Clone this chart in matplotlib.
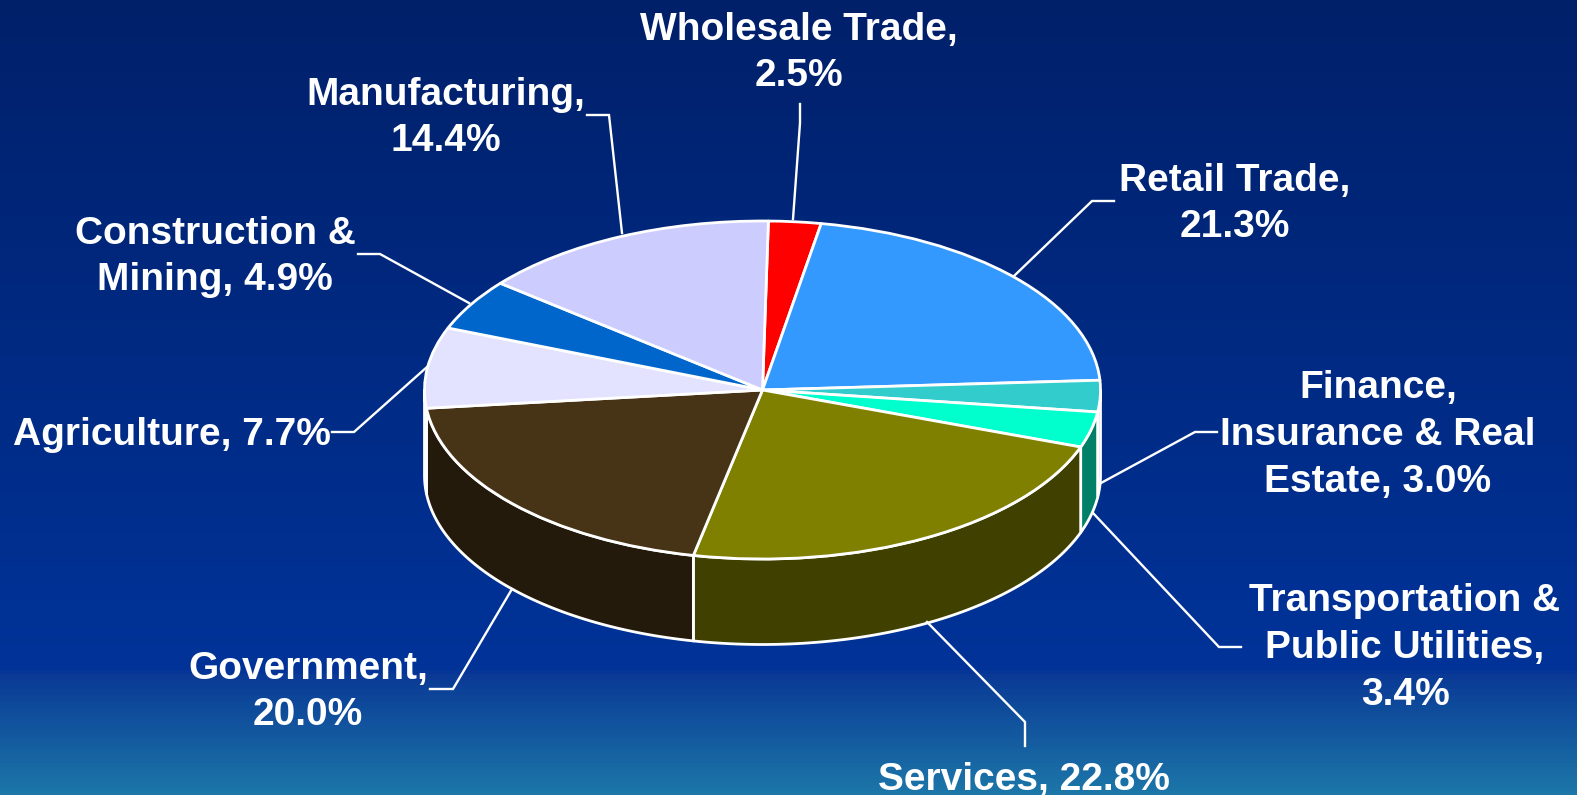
import numpy as np
import matplotlib
matplotlib.use("Agg")
import matplotlib.pyplot as plt
from matplotlib.colors import LinearSegmentedColormap

# ---- data ----
categories = ["Wholesale Trade", "Retail Trade", "Finance, Insurance & Real Estate",
              "Transportation & Public Utilities", "Services", "Government",
              "Agriculture", "Construction & Mining", "Manufacturing"]
shares = [2.5, 21.3, 3.0, 3.4, 22.8, 20.0, 7.7, 4.9, 14.4]
label_texts = ["Wholesale Trade,\n2.5%", "Retail Trade,\n21.3%",
               "Finance,\nInsurance & Real\nEstate, 3.0%",
               "Transportation &\nPublic Utilities,\n3.4%", "Services, 22.8%",
               "Government,\n20.0%", "Agriculture, 7.7%",
               "Construction &\nMining, 4.9%", "Manufacturing,\n14.4%"]

# ---- styles and layout ----
top_colors = ["#FF0000", "#3399FF", "#33CCCC", "#00FFCC", "#808000",
              "#473315", "#E3E3FF", "#0066CC", "#CCCCFF"]
side_colors = ["#800000", "#1A4D80", "#1A8080", "#008066", "#404000",
               "#241A0B", "#717180", "#003366", "#666680"]
W, H = 1577, 795
cx, cy, rx, ry, depth = 762.5, 390.0, 338.0, 169.0, 85.5
start_deg = 1.0
label_pos = [(799, 53), (1235, 204), (1378, 435), (1405, 648), (1024, 780),
             (308, 692), (172, 435), (215, 257), (446, 118)]
leaders = [[(800, 104), (800, 123), (793, 219)],
           [(1114, 201), (1092, 201), (1014, 276)],
           [(1217, 432), (1195, 432), (1101, 483)],
           [(1241, 647), (1219, 647), (1093, 513)],
           [(1025, 746), (1025, 722), (927, 622)],
           [(430, 689), (453, 689), (512, 589)],
           [(332, 432), (354, 432), (427, 367)],
           [(358, 254), (380, 254), (469, 303)],
           [(587, 115), (609, 115), (622, 233)]]

fig = plt.figure(figsize=(W / 100, H / 100), dpi=100)

# background gradient
bg = fig.add_axes([0, 0, 1, 1], zorder=0)
stops = [(0.0, "#00206A"), (0.845, "#003399"), (0.85, "#0A3A96"), (1.0, "#1C76A8")]
cmap = LinearSegmentedColormap.from_list("bg", stops)
bg.imshow(np.linspace(0, 1, 795).reshape(-1, 1), cmap=cmap, aspect="auto",
          extent=(0, 1, 0, 1), origin="upper")
bg.axis("off")

# pie: unit circle stretched to an ellipse through the axes limits
ax = fig.add_axes([0, 0, 1, 1], zorder=1)
ax.pie(shares, colors=top_colors, startangle=90 - start_deg, counterclock=False,
       radius=1.0, center=(0, 0),
       wedgeprops=dict(edgecolor="white", linewidth=2.0, joinstyle="round"))
ax.set_aspect("auto")
ax.set_xlim((0 - cx) / rx, (W - cx) / rx)
ax.set_ylim((cy - H) / ry, cy / ry)
ax.axis("off")

# side wall of the disc, from the same shares
bounds = start_deg + np.concatenate([[0], np.cumsum(shares)]) * 3.6
drop = depth / ry
for lo, hi, color in zip(bounds[:-1], bounds[1:], side_colors):
    t0, t1 = max(lo, 90.0), min(hi, 270.0)
    if t1 <= t0:
        continue
    t = np.radians(np.linspace(t0, t1, 80))
    xs, ys = np.sin(t), np.cos(t)
    ax.fill(np.r_[xs, xs[::-1]], np.r_[ys, ys[::-1] - drop], facecolor=color,
            edgecolor="white", linewidth=2.0, joinstyle="round", zorder=0.5)

# labels and leader lines in picture coordinates
ov = fig.add_axes([0, 0, 1, 1], zorder=2)
ov.set_xlim(0, W)
ov.set_ylim(H, 0)
ov.axis("off")
ov.patch.set_alpha(0)
for text, (x, y), pts in zip(label_texts, label_pos, leaders):
    ov.plot(*zip(*pts), color="white", lw=1.7, solid_joinstyle="miter")
    ov.text(x, y, text, color="white", ha="center", va="center", fontsize=28,
            fontweight="bold", family="Liberation Sans", linespacing=1.39)

fig.savefig("out.png", dpi=100)
